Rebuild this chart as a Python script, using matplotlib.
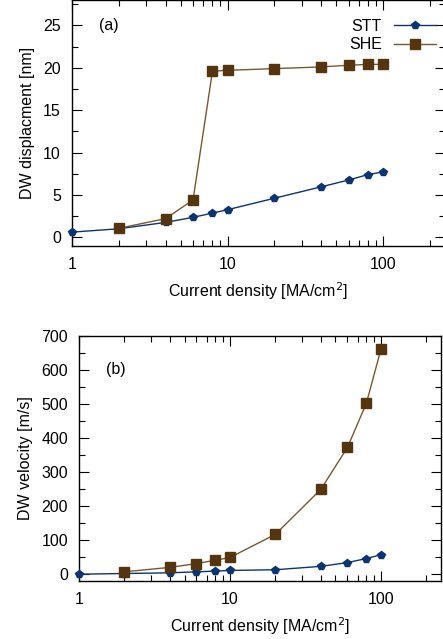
import matplotlib
matplotlib.use('Agg')
import matplotlib.pyplot as plt
from matplotlib.ticker import MultipleLocator, LogLocator, FixedLocator, NullFormatter

plt.rcParams['font.family'] = ['Liberation Sans', 'DejaVu Sans']
plt.rcParams['font.size'] = 11.5

# current density [MA/cm^2]
stt_current = [1, 2, 4, 6, 8, 10, 20, 40, 60, 80, 100]
she_current = [2, 4, 6, 8, 10, 20, 40, 60, 80, 100]

# (a) DW displacement [nm]
stt_disp = [0.6, 1.0, 1.75, 2.35, 2.85, 3.25, 4.6, 5.95, 6.75, 7.4, 7.7]
she_disp = [1.05, 2.2, 4.4, 19.6, 19.7, 19.9, 20.1, 20.3, 20.4, 20.4]

# (b) DW velocity [m/s]
stt_vel = [0, 2, 4, 7, 9, 11, 13, 23, 34, 46, 57]
she_vel = [7, 20, 31, 41, 49, 117, 249, 372, 501, 660]

stt_color = '#0b3470'
she_color = '#553510'
she_line = '#7a5630'

W, H = 443, 639
fig = plt.figure(figsize=(W / 100, H / 100), dpi=100)

ax1 = fig.add_axes([72 / W, 1 - 245.7 / H, 373 / W, 245.7 / H])
ax2 = fig.add_axes([79 / W, 1 - 581 / H, 362 / W, (581 - 335.7) / H])


def style(ax):
    ax.set_xscale('log')
    ax.set_xlim(1, 250)
    ax.xaxis.set_major_locator(FixedLocator([1, 10, 100]))
    ax.xaxis.set_major_formatter(matplotlib.ticker.FixedFormatter(['1', '10', '100']))
    ax.xaxis.set_minor_locator(LogLocator(base=10, subs=range(2, 10)))
    ax.xaxis.set_minor_formatter(NullFormatter())
    ax.tick_params(which='both', direction='in', top=True, right=True, width=0.8)
    ax.tick_params(which='major', length=7, pad=8)
    ax.tick_params(which='minor', length=4)
    for s in ax.spines.values():
        s.set_linewidth(1.0)
    ax.set_xlabel('Current density [MA/cm$^2$]', labelpad=6)


# panel (a)
ax1.plot(stt_current, stt_disp, '-', color=stt_color, lw=1.0, marker='p',
         ms=5.5, mfc=stt_color, mec=stt_color, label='STT', clip_on=False, zorder=3)
ax1.plot(she_current, she_disp, '-', color=she_line, lw=1.0, marker='s',
         ms=7, mfc=she_color, mec=she_color, label='SHE', clip_on=False, zorder=3)
style(ax1)
ax1.set_ylim(-1, 28)
ax1.yaxis.set_major_locator(MultipleLocator(5))
ax1.yaxis.set_minor_locator(MultipleLocator(2.5))
ax1.set_ylabel('DW displacment [nm]', labelpad=6)
ax1.text(1.5, 25, '(a)', va='center', ha='left')
ax1.legend(loc='upper right', bbox_to_anchor=(436 / W, 1 - 19 / H),
           bbox_transform=fig.transFigure, frameon=False, markerfirst=False,
           handlelength=2.6, handletextpad=0.8, labelspacing=0.2,
           borderpad=0, borderaxespad=0)

# panel (b)
ax2.plot(stt_current, stt_vel, '-', color=stt_color, lw=1.0, marker='p',
         ms=5.5, mfc=stt_color, mec=stt_color, clip_on=False, zorder=3)
ax2.plot(she_current, she_vel, '-', color=she_line, lw=1.0, marker='s',
         ms=7, mfc=she_color, mec=she_color, clip_on=False, zorder=3)
style(ax2)
ax2.set_ylim(-20, 700)
ax2.yaxis.set_major_locator(MultipleLocator(100))
ax2.yaxis.set_minor_locator(MultipleLocator(50))
ax2.set_ylabel('DW velocity [m/s]', labelpad=6)
ax2.text(1.5, 600, '(b)', va='center', ha='left')

fig.savefig('out.png', dpi=100)
